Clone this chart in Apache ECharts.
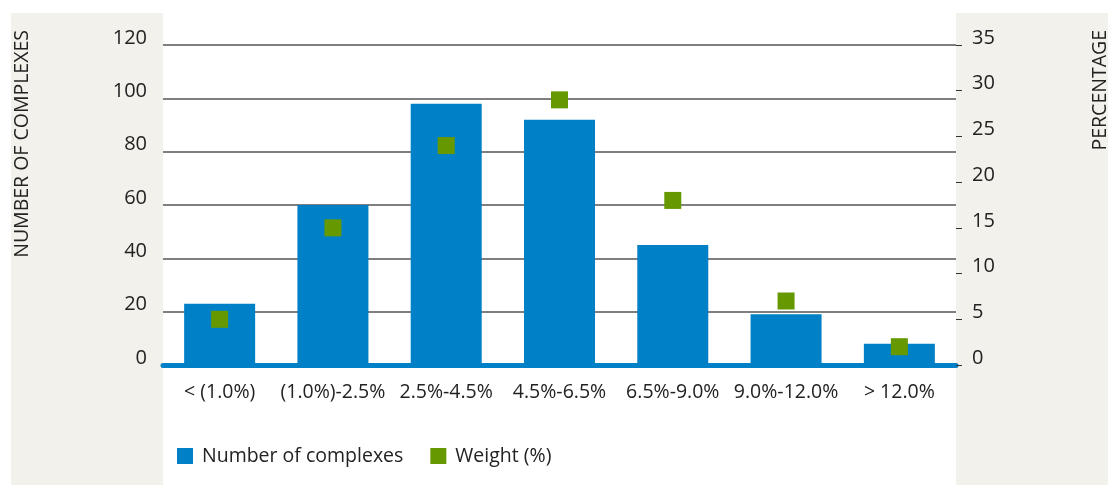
<!DOCTYPE html>
<html>
<head>
<meta charset="utf-8">
<script src="https://cdn.jsdelivr.net/npm/echarts@6/dist/echarts.min.js"></script>
<style>
  html, body { margin: 0; padding: 0; background: #fff; }
  #main { width: 1108px; height: 485px; }
</style>
</head>
<body>
<div id="main"></div>
<script>
var categories = ['< (1.0%)', '(1.0%)-2.5%', '2.5%-4.5%', '4.5%-6.5%', '6.5%-9.0%', '9.0%-12.0%', '> 12.0%'];
var complexes = [23, 60, 98, 92, 45, 19, 8];
var weight = [5, 15, 24, 29, 18, 7, 2];

var fontFam = '"Open Sans", sans-serif';
var textCol = '#222';

var myChart = echarts.init(document.getElementById('main'));
var option = {
    animation: false,
    textStyle: { fontFamily: fontFam },
    grid: {
        left: 163,
        right: 152,
        top: 45,
        bottom: 120
    },
    graphic: [{
        type: 'rect', z: -10, silent: true,
        shape: { x: 11, y: 13, width: 152, height: 472 },
        style: { fill: '#f2f1eb' }
    }, {
        type: 'rect', z: -10, silent: true,
        shape: { x: 956, y: 13, width: 152, height: 472 },
        style: { fill: '#f2f1eb' }
    }, {
        type: 'text', x: 22, y: 30, rotation: Math.PI / 2,
        style: {
            text: 'NUMBER OF COMPLEXES', fill: textCol,
            font: '19.5px ' + fontFam,
            align: 'right', verticalAlign: 'middle'
        }
    }, {
        type: 'text', x: 1100, y: 30, rotation: Math.PI / 2,
        style: {
            text: 'PERCENTAGE', fill: textCol,
            font: '19.5px ' + fontFam,
            align: 'right', verticalAlign: 'middle'
        }
    }],
    legend: {
        left: 172,
        top: 441,
        itemWidth: 16,
        itemHeight: 16,
        itemGap: 27,
        icon: 'rect',
        textStyle: { fontSize: 19.5, color: textCol, fontFamily: fontFam, padding: [0, 0, 0, 4] },
        data: ['Number of complexes', 'Weight (%)']
    },
    xAxis: {
        type: 'category',
        data: categories,
        axisLine: { lineStyle: { color: '#0080c6', width: 5 } },
        axisTick: { show: false },
        axisLabel: { color: textCol, fontSize: 19.5, margin: 17, interval: 0 }
    },
    yAxis: [{
        type: 'value',
        min: 0,
        max: 120,
        interval: 20,
        axisLine: { show: false },
        axisTick: { show: false },
        axisLabel: { color: textCol, fontSize: 20, margin: 16, verticalAlign: 'bottom', lineHeight: 14 },
        splitLine: { lineStyle: { color: '#555', width: 1.5 } }
    }, {
        type: 'value',
        min: 0,
        max: 35,
        interval: 5,
        axisLine: { show: false },
        axisTick: { show: true, length: 6, lineStyle: { color: '#333' } },
        axisLabel: { color: textCol, fontSize: 20, margin: 16, verticalAlign: 'bottom', lineHeight: 14 },
        splitLine: { show: false }
    }],
    series: [{
        name: 'Number of complexes',
        type: 'bar',
        barWidth: 71,
        itemStyle: { color: '#0080c6' },
        data: complexes
    }, {
        name: 'Weight (%)',
        type: 'scatter',
        yAxisIndex: 1,
        symbol: 'rect',
        symbolSize: 17,
        itemStyle: { color: '#669900', opacity: 1 },
        z: 5,
        data: weight
    }]
};
myChart.setOption(option);
</script>
</body>
</html>
